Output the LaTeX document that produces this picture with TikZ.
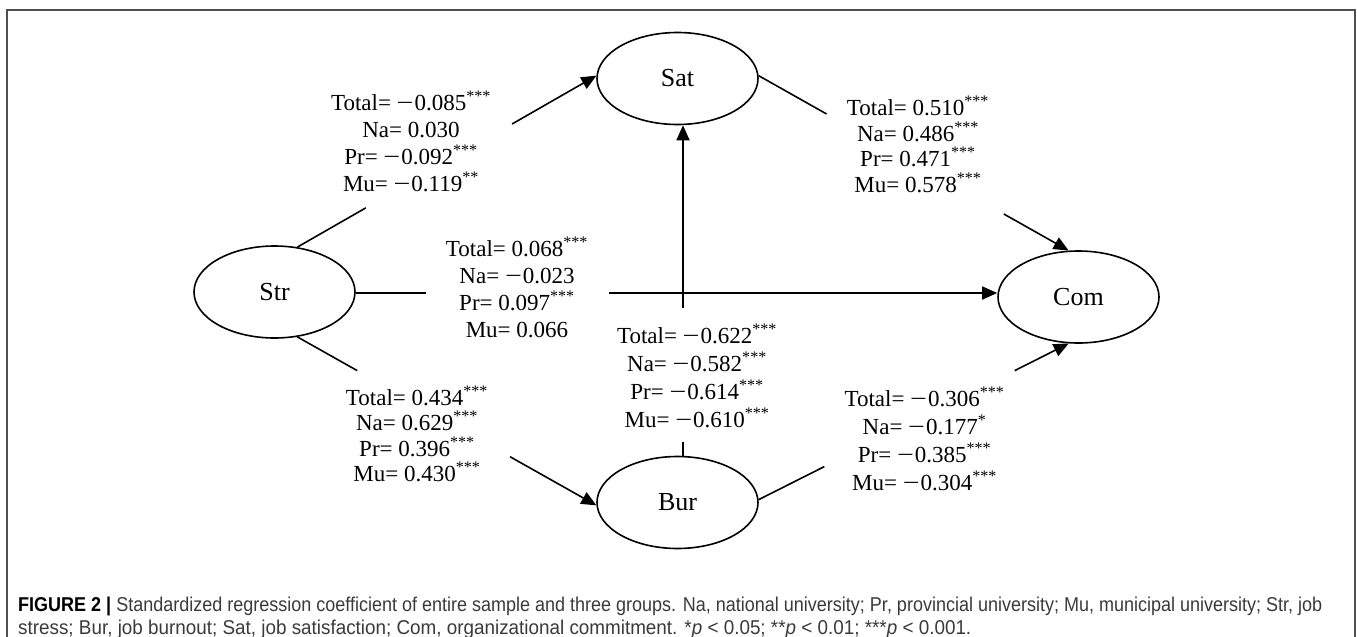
\documentclass[tikz,border=0pt]{standalone}
\usepackage{fontspec}
\setmainfont{Liberation Serif}
\newfontfamily\capfont{Liberation Sans}
\usetikzlibrary{arrows.meta,shapes.geometric,calc}
\definecolor{framegray}{HTML}{505050}
\definecolor{capgray}{HTML}{3A3A3A}
\newcommand{\mneg}{\scalebox{1.3}[1]{−}\hspace{0.04em}}
\begin{document}
\begin{tikzpicture}[x=1pt,y=-1pt,
  latent/.style={draw, ellipse, line width=1.6pt, minimum width=161pt, minimum height=92pt, inner sep=0pt, font=\fontsize{26}{30}\selectfont},
  coef/.style={align=center, inner sep=0pt, font=\fontsize{23}{#1}\selectfont},
  link/.style={line width=1.6pt},
  arr/.style={line width=1.6pt, -{Triangle[length=15pt,width=13pt]}},
  captext/.style={anchor=base west, inner sep=0pt, text=capgray, font=\capfont\fontsize{20}{24}\selectfont}
]
\useasboundingbox (0,0) rectangle (1357,637);
\draw[framegray, line width=1.5pt] (7,637) -- (7,10) -- (1355,10) -- (1355,637);

% latent variables
\node[latent] (Str) at (274.5,292) {Str};
\node[latent] (Sat) at (677.5,78.5) {Sat};
\node[latent] (Com) at (1078.5,297) {Com};
\node[latent] (Bur) at (677.5,502.5) {Bur};

% coefficient labels
\node[coef=27] (lA) at (411,141.5) {Total= \mneg0.085\textsuperscript{***}\\Na= 0.030\\Pr= \mneg0.092\textsuperscript{***}\\Mu= \mneg0.119\textsuperscript{**}};
\node[coef=27] (lB) at (517,287) {Total= 0.068\textsuperscript{***}\\Na= \mneg0.023\\Pr= 0.097\textsuperscript{***}\\Mu= 0.066};
\node[coef=28] (lC) at (697,375.5) {Total= \mneg0.622\textsuperscript{***}\\Na= \mneg0.582\textsuperscript{***}\\Pr= \mneg0.614\textsuperscript{***}\\Mu= \mneg0.610\textsuperscript{***}};
\node[coef=25.5] (lD) at (918,144.5) {Total= 0.510\textsuperscript{***}\\Na= 0.486\textsuperscript{***}\\Pr= 0.471\textsuperscript{***}\\Mu= 0.578\textsuperscript{***}};
\node[coef=25.5] (lE) at (417,434) {Total= 0.434\textsuperscript{***}\\Na= 0.629\textsuperscript{***}\\Pr= 0.396\textsuperscript{***}\\Mu= 0.430\textsuperscript{***}};
\node[coef=28] (lF) at (924.5,438.5) {Total= \mneg0.306\textsuperscript{***}\\Na= \mneg0.177\textsuperscript{*}\\Pr= \mneg0.385\textsuperscript{***}\\Mu= \mneg0.304\textsuperscript{***}};

% Str -> Sat
\path (Str.63) coordinate (ssA) (Sat.178) coordinate (ssB);
\draw[link] (ssA) -- ($(ssA)!0.229!(ssB)$);
\draw[arr] ($(ssA)!0.718!(ssB)$) -- (ssB);

% Str -> Com
\coordinate (h1) at (426,293);
\coordinate (h2) at (609,293);
\draw[link] (Str.east |- h1) -- (h1);
\draw[arr] (h2) -- (h2 -| Com.west);

% Bur -> Sat
\coordinate (v1) at (683,442);
\coordinate (v2) at (683,308);
\draw[link] (v1 |- Bur.north) -- (v1);
\draw[arr] (v2) -- (v2 |- Sat.south);

% Sat -> Com
\path (Sat.2) coordinate (scA) (Com.102) coordinate (scB);
\draw[link] (scA) -- ($(scA)!0.219!(scB)$);
\draw[arr] ($(scA)!0.791!(scB)$) -- (scB);

% Str -> Bur
\path (Str.-63) coordinate (sbA) (Bur.182) coordinate (sbB);
\draw[link] (sbA) -- ($(sbA)!0.2!(sbB)$);
\draw[arr] ($(sbA)!0.711!(sbB)$) -- (sbB);

% Bur -> Com
\path (Bur.2) coordinate (bcA) (Com.258) coordinate (bcB);
\draw[link] (bcA) -- ($(bcA)!0.212!(bcB)$);
\draw[arr] ($(bcA)!0.826!(bcB)$) -- (bcB);

% caption
\node[captext] (cap1) at (18,611) {\resizebox{1304pt}{\height}{{\color{black}\textbf{FIGURE 2 |}} Standardized regression coefficient of entire sample and three groups. Na, national university; Pr, provincial university; Mu, municipal university; Str, job}};
\node[captext] (cap2) at (18,634) {\resizebox{953pt}{\height}{stress; Bur, job burnout; Sat, job satisfaction; Com, organizational commitment. *\textit{p} < 0.05; **\textit{p} < 0.01; ***\textit{p} < 0.001.}};
\end{tikzpicture}
\end{document}
